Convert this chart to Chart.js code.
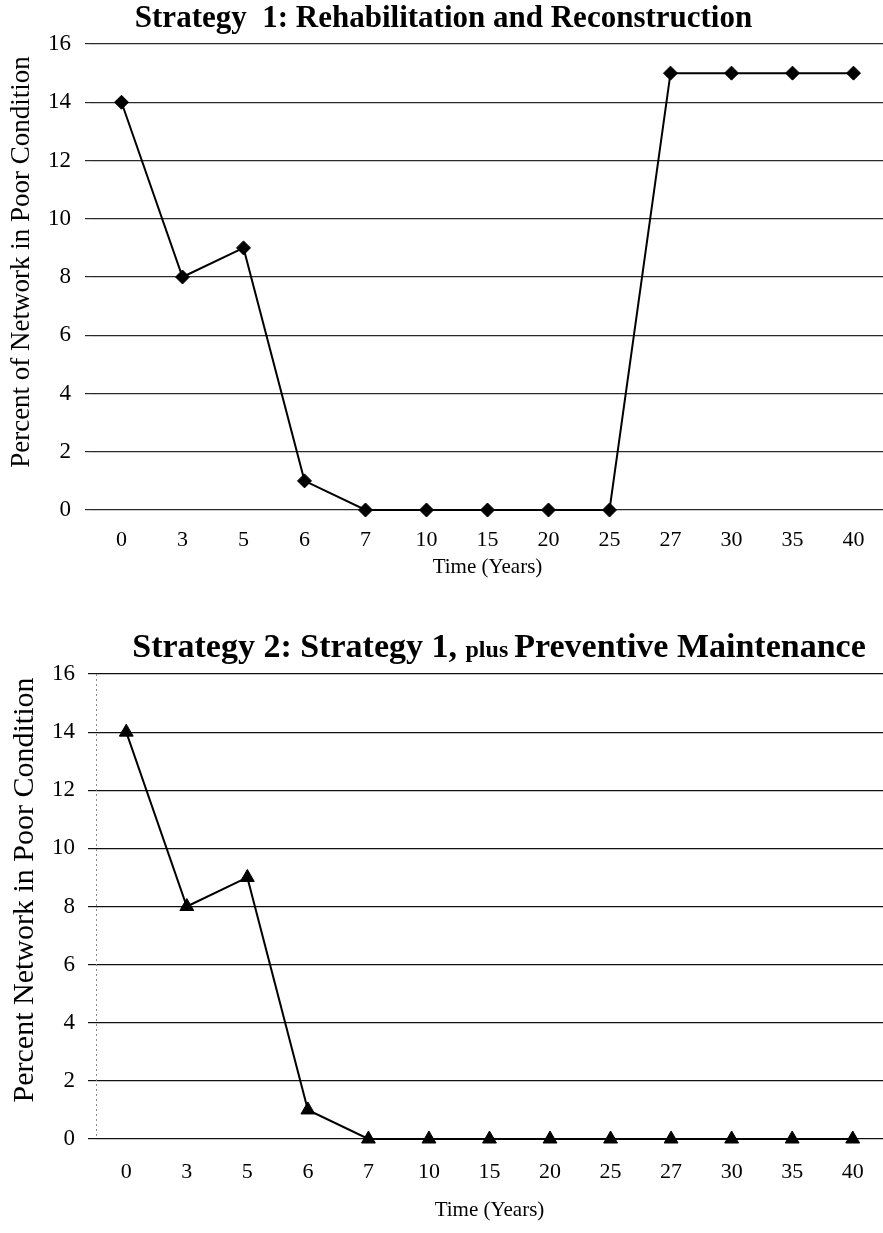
<!DOCTYPE html>
<html>
<head>
<meta charset="utf-8">
<script src="https://cdn.jsdelivr.net/npm/chart.js@4.4.1/dist/chart.umd.min.js"></script>
<style>
  html, body { margin: 0; padding: 0; background: #fff; overflow: hidden; width: 883px; height: 1233px; }
  canvas { position: absolute; left: 0; }
  #strategy1 { top: 0; }
  #strategy2 { top: 600px; }
</style>
</head>
<body>
<canvas id="strategy1" width="892" height="600"></canvas>
<canvas id="strategy2" width="892" height="633"></canvas>
<script>
// Time axis categories (years)
const years = ['0', '3', '5', '6', '7', '10', '15', '20', '25', '27', '30', '35', '40'];

// Percent of network in poor condition
const strategy1Poor = [14, 8, 9, 1, 0, 0, 0, 0, 0, 15, 15, 15, 15];
const strategy2Poor = [14, 8, 9, 1, 0, 0, 0, 0, 0, 0, 0, 0, 0];

// Value axis tick labels
const percentTicks = [0, 2, 4, 6, 8, 10, 12, 14, 16];

const SERIF = '"Liberation Serif", "Times New Roman", serif';

// Chart title made of runs with different font sizes
const richTitle = {
  id: 'richTitle',
  afterDraw(chart, args, opts) {
    if (!opts || !opts.parts) return;
    const ctx = chart.ctx;
    ctx.save();
    ctx.fillStyle = opts.color || '#000';
    ctx.textAlign = 'left';
    ctx.textBaseline = 'alphabetic';
    let total = 0;
    const widths = opts.parts.map(p => {
      ctx.font = p.font;
      const w = ctx.measureText(p.text).width;
      total += w;
      return w;
    });
    let x = opts.x - total / 2;
    opts.parts.forEach((p, i) => {
      ctx.font = p.font;
      ctx.fillText(p.text, x, opts.baseline);
      x += widths[i];
    });
    ctx.restore();
  }
};

// Rotated value-axis caption, centred on the whole plot block
const sideTitle = {
  id: 'sideTitle',
  afterDraw(chart, args, opts) {
    if (!opts || !opts.text) return;
    const ctx = chart.ctx;
    ctx.save();
    ctx.translate(opts.x, opts.y);
    ctx.rotate(-Math.PI / 2);
    ctx.font = opts.font;
    ctx.fillStyle = '#000';
    ctx.textAlign = 'center';
    ctx.textBaseline = 'middle';
    ctx.fillText(opts.text, 0, 0);
    ctx.restore();
  }
};

// Dotted vertical line along the left edge of the plot area
const leftGuide = {
  id: 'leftGuide',
  beforeDatasetsDraw(chart, args, opts) {
    if (!opts || !opts.show) return;
    const {ctx, chartArea} = chart;
    ctx.save();
    ctx.strokeStyle = opts.color;
    ctx.lineWidth = 1;
    ctx.setLineDash([2, 3]);
    ctx.beginPath();
    ctx.moveTo(Math.round(chartArea.left) + 0.5, chartArea.top);
    ctx.lineTo(Math.round(chartArea.left) + 0.5, chartArea.bottom);
    ctx.stroke();
    ctx.restore();
  }
};

function makeChart(id, cfg) {
  return new Chart(document.getElementById(id), {
    type: 'line',
    data: {
      labels: years,
      datasets: [{
        data: cfg.values,
        borderColor: '#000',
        backgroundColor: '#000',
        borderWidth: 2,
        pointStyle: cfg.pointStyle,
        pointRadius: cfg.pointRadius,
        pointBorderWidth: 1,
        pointBorderColor: '#000',
        pointBackgroundColor: '#000',
        tension: 0,
        fill: false,
        clip: false
      }]
    },
    options: {
      responsive: false,
      animation: false,
      events: [],
      layout: { padding: { top: cfg.padTop, right: cfg.padRight, bottom: 0, left: 0 } },
      plugins: {
        legend: { display: false },
        tooltip: { enabled: false },
        title: cfg.title,
        richTitle: cfg.richTitle,
        sideTitle: cfg.sideTitle,
        leftGuide: cfg.leftGuide
      },
      scales: {
        x: {
          type: 'category',
          offset: true,
          grid: { display: false, drawTicks: false },
          border: { display: false },
          ticks: {
            autoSkip: false, maxRotation: 0, color: '#000',
            padding: cfg.xTickPad,
            font: { family: SERIF, size: 22 }
          },
          title: {
            display: true, text: 'Time (Years)', color: '#000',
            font: { family: SERIF, size: 21, lineHeight: 1.2 },
            padding: { top: 0, bottom: cfg.xTitlePad }
          },
          afterFit(s) { s.height = cfg.xHeight; }
        },
        y: {
          min: 0, max: 16,
          afterBuildTicks(s) { s.ticks = percentTicks.map(v => ({ value: v })); },
          grid: {
            color: cfg.gridColor, lineWidth: 1.2,
            drawTicks: true, tickLength: cfg.tickLen
          },
          border: { display: false },
          ticks: {
            color: '#000', padding: cfg.yTickPad,
            font: { family: SERIF, size: 23 }
          },
          title: { display: false },
          afterFit(s) { s.width = cfg.yWidth; }
        }
      }
    },
    plugins: [richTitle, sideTitle, leftGuide]
  });
}

makeChart('strategy1', {
  values: strategy1Poor,
  pointStyle: 'rectRot',
  pointRadius: 7,
  padTop: 0,
  padRight: 5,
  xTickPad: 17,
  xTitlePad: 20,
  xHeight: 90,
  yWidth: 91,
  tickLen: 6,
  yTickPad: 14,
  gridColor: '#2a2a2a',
  title: {
    display: true,
    text: 'Strategy  1: Rehabilitation and Reconstruction',
    color: '#000',
    font: { family: SERIF, size: 31, weight: 'bold', lineHeight: 1 },
    padding: { top: 3, bottom: 10 }
  },
  richTitle: {},
  sideTitle: {
    text: 'Percent of Network in Poor Condition',
    font: '27px ' + SERIF,
    x: 22, y: 262
  },
  leftGuide: { show: false }
});

makeChart('strategy2', {
  values: strategy2Poor,
  pointStyle: 'triangle',
  pointRadius: 8,
  padTop: 74,
  padRight: 1,
  xTickPad: 20,
  xTitlePad: 10,
  xHeight: 94,
  yWidth: 96,
  tickLen: 8,
  yTickPad: 13,
  gridColor: '#111',
  title: { display: false },
  richTitle: {
    x: 499,
    baseline: 57,
    color: '#000',
    parts: [
      { text: 'Strategy 2: Strategy 1, ', font: 'bold 34px ' + SERIF },
      { text: 'plus ', font: 'bold 24px ' + SERIF },
      { text: 'Preventive Maintenance', font: 'bold 34px ' + SERIF }
    ]
  },
  sideTitle: {
    text: 'Percent Network in Poor Condition',
    font: '30px ' + SERIF,
    x: 25, y: 290
  },
  leftGuide: { show: true, color: '#8a8a8a' }
});
</script>
</body>
</html>
